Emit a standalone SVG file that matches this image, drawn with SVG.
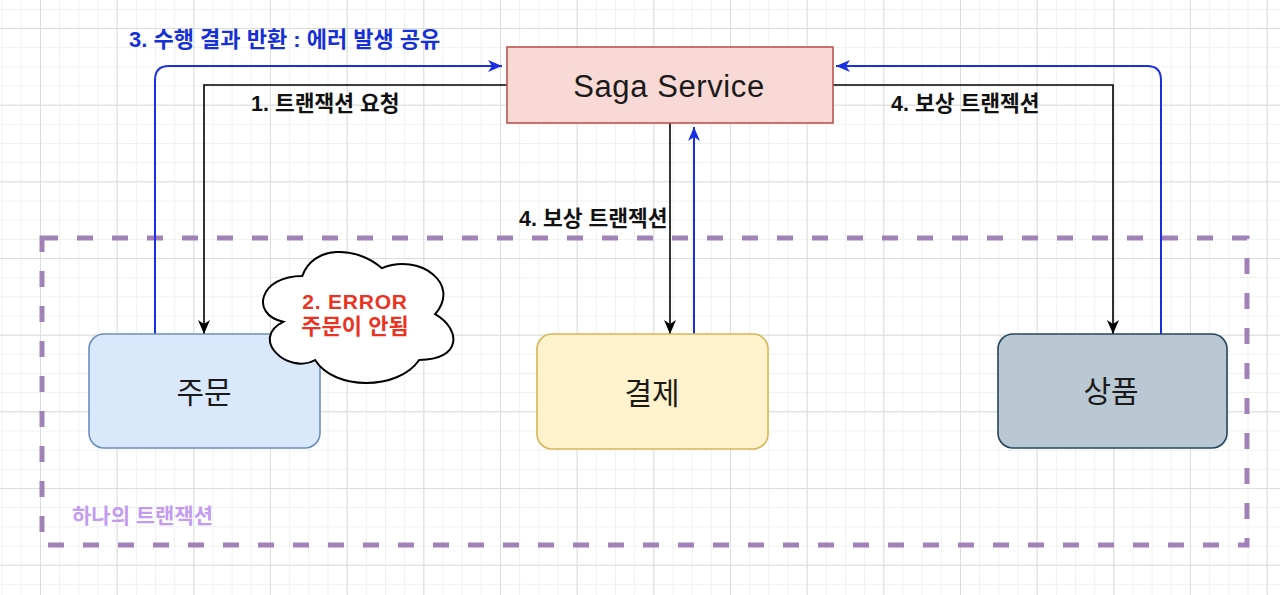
<svg xmlns="http://www.w3.org/2000/svg" width="1280" height="595" viewBox="0 0 1280 595">
<defs>
<pattern id="minor" patternUnits="userSpaceOnUse" x="40" y="28" width="19.1667" height="19.1667">
<path d="M0.5,0 V19.1667 M0,0.5 H19.1667" stroke="#f0f0f0" stroke-width="1" fill="none"/>
</pattern>
<pattern id="major" patternUnits="userSpaceOnUse" x="40" y="28" width="76.6667" height="76.6667">
<path d="M0.5,0 V76.6667 M0,0.5 H76.6667" stroke="#dcdcdc" stroke-width="1" fill="none"/>
</pattern>
<marker id="arrK" markerUnits="userSpaceOnUse" markerWidth="16" markerHeight="14" refX="14" refY="7" orient="auto">
<path d="M0,1 L14,7 L0,13 L4,7 Z" fill="#000"/>
</marker>
<marker id="arrB" markerUnits="userSpaceOnUse" markerWidth="16" markerHeight="14" refX="14" refY="7" orient="auto">
<path d="M0,1 L14,7 L0,13 L4,7 Z" fill="#1a2fe0"/>
</marker>
<style>
.lbl{font-family:"Liberation Sans","Noto Sans CJK KR",sans-serif;font-weight:bold;font-size:21.5px;dominant-baseline:central}
.node{font-family:"Liberation Sans","Noto Sans CJK KR",sans-serif;font-size:30px;fill:#1a1a1a;text-anchor:middle;dominant-baseline:central}
.k{fill:none;stroke:#000;stroke-width:1.6}
.b{fill:none;stroke:#1a2fe0;stroke-width:2}
</style>
</defs>
<rect width="1280" height="595" fill="#ffffff"/>
<rect width="1280" height="595" fill="url(#minor)"/>
<rect width="1280" height="595" fill="url(#major)"/>

<g id="frame">
<rect x="42" y="238" width="1205" height="307" fill="none" stroke="#a281b8" stroke-width="5" stroke-dasharray="16 19"/>
<text class="lbl" x="72" y="515" fill="#c39bef" style="font-size:21px">하나의 트랜잭션</text>
</g>

<g id="connectors">
<path class="k" d="M507,85 H204 V334" marker-end="url(#arrK)"/>
<path class="b" d="M155,334 V80 Q155,66 169,66 H502" marker-end="url(#arrB)"/>
<path class="k" d="M833,85 H1113 V334" marker-end="url(#arrK)"/>
<path class="b" d="M1161,334 V80 Q1161,66 1147,66 H836" marker-end="url(#arrB)"/>
<path class="k" d="M670,123 V334" marker-end="url(#arrK)"/>
<path class="b" d="M694,334 V127" marker-end="url(#arrB)"/>
<text class="lbl" x="129" y="39" fill="#1531d6" style="font-size:22px">3. 수행 결과 반환 : 에러 발생 공유</text>
<text class="lbl" x="251" y="104" fill="#111">1. 트랜잭션 요청</text>
<text class="lbl" x="891" y="104" fill="#111">4. 보상 트랜젝션</text>
<text class="lbl" x="519" y="219" fill="#111">4. 보상 트랜젝션</text>
</g>

<g id="saga">
<rect x="507" y="47" width="326" height="76" fill="#f8d9d5" stroke="#b85450" stroke-width="1.6"/>
<text class="node" x="669" y="86" style="font-size:31px;letter-spacing:0.6px">Saga Service</text>
</g>

<g id="order">
<rect x="89" y="334" width="231" height="114" rx="15" ry="15" fill="#dae8fc" stroke="#6c8ebf" stroke-width="1.6"/>
<text class="node" x="204" y="392">주문</text>
</g>

<g id="payment">
<rect x="537" y="334" width="231" height="115" rx="15" ry="15" fill="#fff2cc" stroke="#d6b656" stroke-width="1.6"/>
<text class="node" x="652" y="393">결제</text>
</g>

<g id="product">
<rect x="998" y="334" width="229" height="114" rx="15" ry="15" fill="#bac8d3" stroke="#23445d" stroke-width="1.6"/>
<text class="node" x="1111" y="391">상품</text>
</g>

<g id="error">
<path d="M302.3,275.9 C259.8,275.9 249.2,314.1 283.2,321.8 C249.2,338.6 287.5,375.3 315.1,360 C334.2,390.6 398,390.6 419.2,360 C461.7,360 461.7,329.4 435.1,314.1 C461.7,283.5 419.2,252.9 382,268.2 C355.5,245.3 313,245.3 302.3,275.9 Z" fill="#ffffff" stroke="#000" stroke-width="2"/>
<text class="lbl" x="355" y="301" fill="#ea3323" text-anchor="middle" style="font-size:21px;letter-spacing:0.8px">2. ERROR</text>
<text class="lbl" x="355" y="326" fill="#ea3323" text-anchor="middle" style="font-size:22px">주문이 안됨</text>
</g>
</svg>
